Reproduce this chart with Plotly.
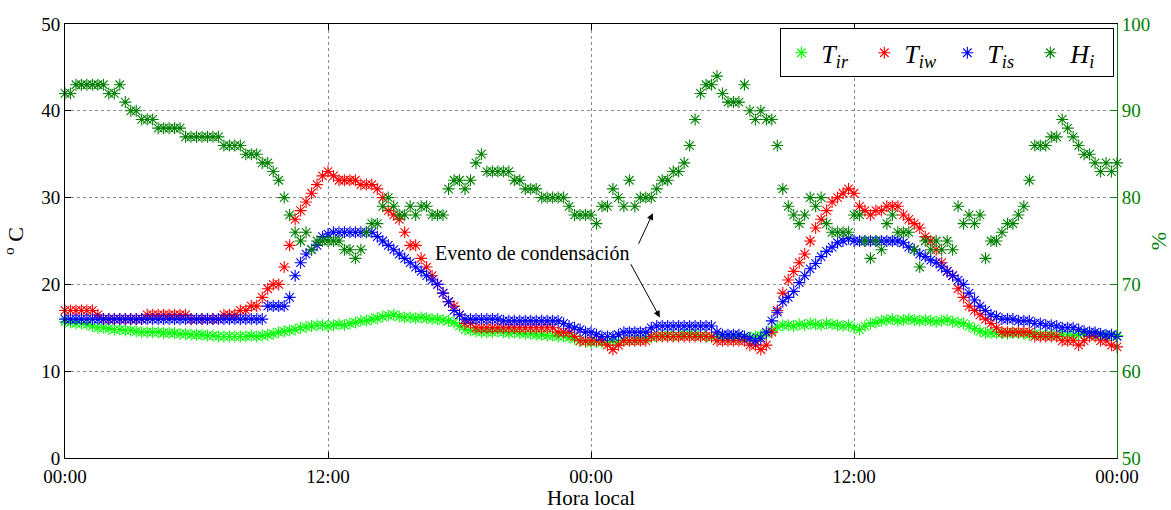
import numpy as np
import plotly.graph_objects as go

# Sampling every 15 minutes over two days (hours from the first midnight)
hours = np.arange(193) * 0.25

# Indoor air temperature T_ir (°C)
t_ir = [
    15.7, 15.6, 15.5, 15.5,  15.4, 15.2, 15.0, 15.0,  14.9, 14.8, 14.8, 14.7,
    14.7, 14.6, 14.5, 14.5,  14.5, 14.5, 14.4, 14.4,  14.4, 14.3, 14.3, 14.2,
    14.2, 14.2, 14.1, 14.1,  14.0, 14.0, 14.0, 14.0,  14.0, 14.0, 14.1, 14.0,
    14.1, 14.2, 14.3, 14.5,  14.6, 14.7, 14.8, 15.0,  15.1, 15.2, 15.3, 15.3,
    15.2, 15.3, 15.4, 15.3,  15.5, 15.6, 15.8, 15.8,  16.0, 16.1, 16.3, 16.4,
    16.5, 16.3, 16.2, 16.2,  16.1, 16.2, 16.1, 16.0,  16.0, 15.9, 15.8, 15.6,
    15.2, 14.8, 14.7, 14.6,  14.5, 14.5, 14.5, 14.6,  14.5, 14.4, 14.5, 14.4,
    14.3, 14.3, 14.2, 14.2,  14.1, 14.1, 14.0, 14.0,  13.9, 13.7, 13.5, 13.4,
    13.3, 13.4, 13.3, 13.4,  13.5, 13.4, 13.6, 13.5,  13.6, 13.7, 13.8, 13.9,
    14.0, 14.1, 14.2, 14.0,  14.1, 14.2, 14.3, 14.2,  14.1, 14.0, 13.9, 14.0,
    13.9, 13.8, 13.9, 13.8,  13.8, 13.9, 14.0, 14.1,  14.3, 14.7, 15.1, 15.3,
    15.3, 15.2, 15.4, 15.3,  15.5, 15.4, 15.3, 15.5,  15.4, 15.3, 15.2, 15.3,
    15.0, 14.8, 15.2, 15.5,  15.6, 15.8, 15.9, 16.0,  15.8, 15.9, 16.0, 15.9,
    15.8, 15.9, 15.8, 15.7,  15.8, 15.9, 15.7, 15.6,  15.5, 15.2, 14.9, 14.6,
    14.4, 14.4, 14.4, 14.4,  14.3, 14.4, 14.4, 14.3,  14.2, 14.3, 14.2, 14.1,
    14.2, 14.1, 14.2, 14.2,  14.1, 14.2, 14.3, 14.2,  14.2, 14.1, 14.0, 14.1,
    14.1,
]

# Inner wall surface temperature T_iw (°C)
t_iw = [
    17.0, 17.0, 17.0, 17.0,  17.0, 17.0, 16.5, 16.0,  16.0, 16.0, 16.0, 16.0,
    16.0, 16.0, 16.0, 16.5,  16.5, 16.5, 16.5, 16.5,  16.5, 16.5, 16.5, 16.0,
    16.0, 16.0, 16.0, 16.0,  16.0, 16.5, 16.5, 16.5,  17.0, 17.0, 17.5, 17.5,
    18.5, 19.5, 20.0, 20.0,  22.0, 24.5, 27.5, 28.5,  29.5, 30.5, 31.5, 32.5,
    33.0, 32.5, 32.0, 32.0,  32.0, 32.0, 31.5, 31.5,  31.5, 31.0, 30.0, 28.5,
    28.0, 27.5, 26.0, 24.5,  24.5, 23.0, 22.0, 21.0,  20.0, 19.0, 18.0, 17.5,
    16.5, 15.5, 15.5, 15.0,  15.0, 15.0, 15.0, 15.0,  15.0, 15.0, 15.0, 15.0,
    15.0, 15.0, 15.0, 15.0,  15.0, 15.0, 14.5, 14.5,  14.5, 14.0, 13.5, 13.5,
    13.5, 13.5, 13.5, 13.0,  12.5, 13.0, 13.5, 13.5,  13.5, 13.5, 13.5, 14.0,
    14.0, 14.0, 14.0, 14.0,  14.0, 14.0, 14.0, 14.0,  14.0, 14.0, 14.0, 13.5,
    13.5, 13.5, 13.5, 13.5,  13.5, 13.0, 13.0, 12.5,  13.0, 14.5, 17.0, 19.0,
    20.5, 21.5, 22.5, 23.5,  25.0, 26.5, 27.5, 28.5,  29.5, 30.0, 30.5, 31.0,
    30.5, 29.0, 28.5, 28.0,  28.5, 28.5, 29.0, 29.0,  29.0, 28.0, 27.5, 27.0,
    26.5, 25.5, 25.0, 24.0,  22.5, 21.5, 21.0, 19.5,  18.5, 17.5, 17.0, 16.5,
    16.0, 15.5, 15.0, 14.5,  14.5, 14.5, 14.5, 14.5,  14.5, 14.0, 14.0, 14.0,
    14.0, 14.0, 13.5, 13.5,  13.5, 13.0, 13.5, 14.0,  14.0, 13.5, 13.5, 13.0,
    12.8,
]

# Inner slab surface temperature T_is (°C)
t_is = [
    16.0, 16.0, 16.0, 16.0,  16.0, 16.0, 16.0, 16.0,  16.0, 16.0, 16.0, 16.0,
    16.0, 16.0, 16.0, 16.0,  16.0, 16.0, 16.0, 16.0,  16.0, 16.0, 16.0, 16.0,
    16.0, 16.0, 16.0, 16.0,  16.0, 16.0, 16.0, 16.0,  16.0, 16.0, 16.0, 16.0,
    16.0, 17.5, 17.5, 17.5,  17.5, 18.5, 21.0, 22.5,  23.5, 24.0, 24.5, 25.5,
    25.8, 26.0, 26.0, 26.0,  26.0, 26.0, 26.0, 26.0,  26.0, 25.5, 25.0, 24.5,
    24.0, 23.5, 23.0, 22.5,  22.0, 21.5, 21.0, 20.5,  20.0, 19.0, 18.0, 17.0,
    16.5, 16.0, 16.0, 16.0,  16.0, 16.0, 16.0, 16.0,  15.8, 15.8, 15.8, 15.8,
    15.8, 15.8, 15.8, 15.8,  15.8, 15.8, 15.8, 15.5,  15.2, 15.0, 14.8, 14.5,
    14.5, 14.2, 14.0, 14.0,  14.0, 14.2, 14.5, 14.5,  14.5, 14.5, 14.5, 15.0,
    15.2, 15.2, 15.2, 15.2,  15.2, 15.2, 15.2, 15.2,  15.2, 15.2, 15.2, 14.5,
    14.2, 14.2, 14.2, 14.2,  14.0, 13.8, 13.5, 13.8,  14.5, 15.8, 16.8, 18.0,
    18.5, 19.2, 20.2, 21.0,  21.8, 22.4, 23.2, 23.8,  24.3, 24.8, 25.0, 25.3,
    25.0, 25.0, 25.0, 25.0,  25.0, 25.0, 25.0, 25.0,  25.0, 24.8, 24.3, 24.0,
    23.5, 23.2, 22.8, 22.5,  22.0, 21.5, 21.0, 20.5,  20.0, 19.0, 18.2, 17.5,
    17.0, 16.5, 16.3, 16.0,  16.0, 16.0, 15.8, 15.8,  15.8, 15.5, 15.5, 15.3,
    15.3, 15.2, 15.0, 15.0,  15.0, 14.8, 14.6, 14.5,  14.5, 14.3, 14.2, 14.2,
    14.0,
]

# Indoor relative humidity H_i (%)
h_i = [
    92, 92, 93, 93,  93, 93, 93, 93,  92, 92, 93, 91,
    90, 90, 89, 89,  89, 88, 88, 88,  88, 88, 87, 87,
    87, 87, 87, 87,  87, 86, 86, 86,  86, 85, 85, 85,
    84, 84, 83, 82,  80, 78, 76, 75,  76, 74, 75, 75,
    75, 75, 75, 74,  74, 73, 74, 76,  77, 77, 79, 80,
    79, 78, 78, 79,  78, 79, 79, 78,  78, 78, 81, 82,
    82, 81, 82, 84,  85, 83, 83, 83,  83, 83, 82, 82,
    81, 81, 81, 80,  80, 80, 80, 80,  79, 78, 78, 78,
    78, 77, 79, 79,  81, 80, 79, 82,  79, 80, 80, 80,
    81, 82, 82, 83,  83, 84, 86, 89,  92, 93, 93, 94,
    92, 91, 91, 91,  93, 90, 89, 90,  89, 89, 86, 81,
    79, 78, 77, 78,  80, 79, 80, 77,  76, 76, 76, 76,
    78, 78, 75, 73,  75, 74, 77, 78,  76, 76, 76, 74,
    72, 75, 74, 75,  74, 75, 74, 79,  77, 78, 77, 78,
    73, 75, 75, 76,  77, 77, 78, 79,  82, 86, 86, 86,
    87, 87, 89, 88,  87, 86, 85, 85,  84, 83, 84, 83,
    84,
]

tick_hours = [0, 12, 24, 36, 48]
tick_text = ["00:00", "12:00", "00:00", "12:00", "00:00"]

assert len(t_ir) == len(t_iw) == len(t_is) == len(h_i) == len(hours)

SERIF = "Liberation Serif, Times New Roman, serif"
HUM_GREEN = "#008000"
GRID = "#8a8a8a"

fig = go.Figure()


def star_trace(y, color, name, axis="y"):
    return go.Scatter(
        x=hours, y=y, mode="markers", name=name, yaxis=axis,
        cliponaxis=False,
        marker=dict(symbol="asterisk-open", size=10, color=color,
                    line=dict(color=color, width=1.1)),
    )


fig.add_trace(star_trace(t_ir, "#00ff00", "<i>T</i><sub><i>ir</i></sub>"))
fig.add_trace(star_trace(t_iw, "#ff0000", "<i>T</i><sub><i>iw</i></sub>"))
fig.add_trace(star_trace(t_is, "#0000ff", "<i>T</i><sub><i>is</i></sub>"))
fig.add_trace(star_trace(h_i, HUM_GREEN, "<i>H</i><sub><i>i</i></sub>", axis="y2"))

fig.update_layout(
    width=1171, height=510,
    margin=dict(l=65, r=54, t=24, b=52, autoexpand=False),
    paper_bgcolor="white", plot_bgcolor="white",
    font=dict(family=SERIF, size=19, color="black"),
    showlegend=True,
    legend=dict(
        orientation="h", x=0.68, y=0.99, xanchor="left", yanchor="top",
        bgcolor="white", bordercolor="black", borderwidth=1,
        font=dict(family=SERIF, size=26, color="black"),
        itemwidth=30, entrywidth=38, entrywidthmode="pixels",
        tracegroupgap=0,
    ),
    xaxis=dict(
        range=[0, 48], tickvals=tick_hours, ticktext=tick_text,
        ticks="inside", ticklen=6, tickcolor="black",
        showline=True, linecolor="black", linewidth=1, mirror="ticks",
        showgrid=True, gridcolor=GRID, griddash="dot", gridwidth=1,
        zeroline=False, ticklabelstandoff=1,
        tickfont=dict(family=SERIF, size=19, color="black"),
    ),
    yaxis=dict(
        range=[0, 50], dtick=10,
        ticks="inside", ticklen=6, tickcolor="black",
        showline=True, linecolor="black", linewidth=1,
        showgrid=True, gridcolor=GRID, griddash="dot", gridwidth=1,
        zeroline=False,
        tickfont=dict(family=SERIF, size=19, color="black"),
        title=dict(text="<sup>o</sup> C", font=dict(family=SERIF, size=22),
                   standoff=12),
    ),
    yaxis2=dict(
        range=[50, 100], dtick=10, overlaying="y", side="right",
        ticks="inside", ticklen=6, tickcolor=HUM_GREEN,
        showline=True, linecolor=HUM_GREEN, linewidth=1,
        showgrid=False, zeroline=False,
        tickfont=dict(family=SERIF, size=19, color=HUM_GREEN),
        title=dict(text="%", font=dict(family=SERIF, size=22, color=HUM_GREEN),
                   standoff=12),
    ),
    annotations=[
        # x-axis title placed below the tick labels
        dict(x=0.5, y=-0.092, xref="paper", yref="paper", text="Hora local",
             showarrow=False, xanchor="center", yanchor="middle",
             font=dict(family=SERIF, size=21, color="black")),
        dict(x=21.3, y=23.65, xref="x", yref="y", text="Evento de condensación",
             showarrow=False, font=dict(family=SERIF, size=20, color="black")),
        dict(x=26.82, y=28.2, xref="x", yref="y", ax=26.14, ay=24.5,
             axref="x", ayref="y", text="", showarrow=True,
             arrowhead=2, arrowsize=1.3, arrowwidth=1, arrowcolor="black"),
        dict(x=27.14, y=16.2, xref="x", yref="y", ax=25.78, ay=22.5,
             axref="x", ayref="y", text="", showarrow=True,
             arrowhead=2, arrowsize=1.3, arrowwidth=1, arrowcolor="black"),
    ],
)

fig.write_html("out.html", config={"displayModeBar": False})
